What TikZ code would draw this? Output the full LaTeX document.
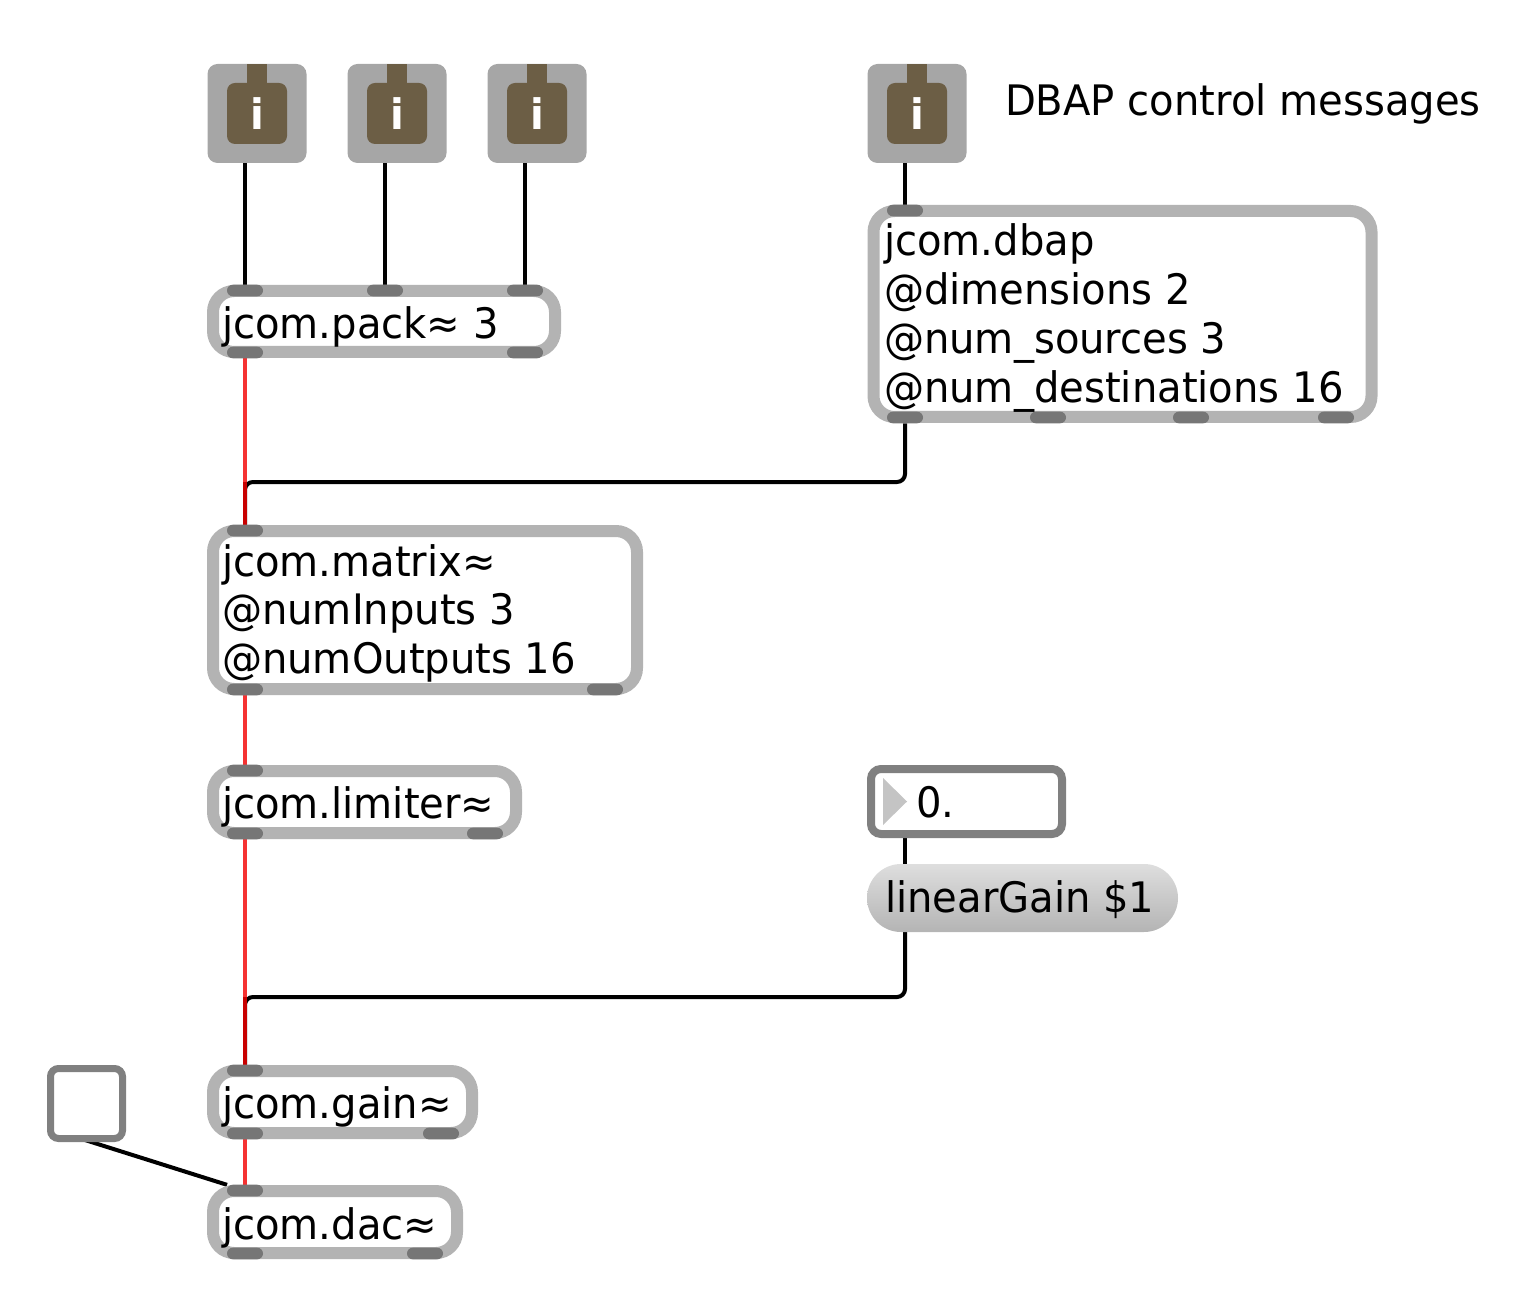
\documentclass[tikz,border=0pt]{standalone}
\usepackage{fontspec}
\setmainfont{DejaVu Sans}[FakeStretch=0.955]
\usetikzlibrary{backgrounds}
\definecolor{boxgray}{RGB}{179,179,179}
\definecolor{portgray}{RGB}{118,118,118}
\definecolor{btngray}{RGB}{166,166,166}
\definecolor{btnbrown}{RGB}{108,94,69}
\definecolor{nbgray}{RGB}{128,128,128}
\definecolor{sigred}{RGB}{245,50,50}
\definecolor{sigdark}{RGB}{200,0,0}
\definecolor{msgtop}{RGB}{222,222,222}
\definecolor{msgbot}{RGB}{180,180,180}
\definecolor{trigray}{RGB}{196,196,196}
\tikzset{
  obj/.style={draw=boxgray, line width=6pt, fill=white, rounded corners=10.5pt, inner sep=0pt, outer sep=0pt},
  port/.style={fill=portgray, rounded corners=2.9pt, minimum width=18pt, minimum height=5.8pt, inner sep=0pt, outer sep=0pt},
  txt/.style={anchor=base west, inner sep=0pt, outer sep=0pt, font=\fontsize{21}{24.35}\selectfont},
  wire/.style={draw=black, line width=2pt},
  sig/.style={draw=sigred, line width=1.75pt},
  sigd/.style={draw=sigdark, line width=1.75pt},
  btn/.style={fill=btngray, minimum size=49.5pt, rounded corners=5pt, inner sep=0pt, outer sep=0pt},
  btnstem/.style={fill=btnbrown, minimum width=10pt, minimum height=10pt, inner sep=0pt, outer sep=0pt},
  btnbody/.style={fill=btnbrown, minimum width=30pt, minimum height=30.5pt, rounded corners=4pt, inner sep=0pt, outer sep=0pt, text=white, font=\fontsize{21}{21}\selectfont\bfseries},
  numbox/.style={draw=nbgray, line width=4pt, fill=white, rounded corners=5pt, inner sep=0pt, outer sep=0pt},
  msgbox/.style={top color=msgtop, bottom color=msgbot, draw=none, rounded corners=17pt, inner sep=0pt, outer sep=0pt},
  togbox/.style={draw=nbgray, line width=3.5pt, fill=white, rounded corners=4pt, inner sep=0pt, outer sep=0pt}
}
\begin{document}
\begin{tikzpicture}[x=0.5pt, y=-0.5pt]
\useasboundingbox (0,0) rectangle (1518,1315);

% message (i) buttons
\foreach \k/\xx in {1/257, 2/397, 3/537, 4/917} {
  \node[btn] (btn\k) at (\xx,113.5) {};
  \node[btnstem] (stem\k) at (\xx,74) {};
  \node[btnbody] (body\k) at (\xx,113.5) {i};
}
\node[txt] (cmt) at (1005,116) {DBAP control messages};

% objects
\node[obj, minimum width=171pt, minimum height=30.5pt] (pack) at (384,321.5) {};
\node[port] (pack-i1) at (245,290.5) {};
\node[port] (pack-i2) at (385,290.5) {};
\node[port] (pack-i3) at (525,290.5) {};
\node[port] (pack-o1) at (245,352.5) {};
\node[port] (pack-o2) at (525,352.5) {};
\node[txt] (pack-t) at (222,339) {jcom.pack≈ 3};

\node[obj, minimum width=249pt, minimum height=103pt] (dbap) at (1122.5,314) {};
\node[port] (dbap-i1) at (905,210.5) {};
\node[port] (dbap-o1) at (905,417.5) {};
\node[port] (dbap-o2) at (1048,417.5) {};
\node[port] (dbap-o3) at (1191,417.5) {};
\node[port] (dbap-o4) at (1336,417.5) {};
\node[txt] (dbap-t) at (884,256) {\vtop{\hbox{jcom.dbap}\hbox{@dimensions 2}\hbox{@num\_sources 3}\hbox{@num\_destinations 16}}};

\node[obj, minimum width=212pt, minimum height=79pt] (mx) at (425,610) {};
\node[port] (mx-i1) at (245,530.5) {};
\node[port] (mx-o1) at (245,689.5) {};
\node[port] (mx-o2) at (605,689.5) {};
\node[txt] (mx-t) at (222,576) {\vtop{\hbox{jcom.matrix≈}\hbox{@numInputs 3}\hbox{@numOutputs 16}}};

\node[obj, minimum width=151.5pt, minimum height=31pt] (lim) at (364.5,802) {};
\node[port] (lim-i1) at (245,770.5) {};
\node[port] (lim-o1) at (245,833.5) {};
\node[port] (lim-o2) at (485,833.5) {};
\node[txt] (lim-t) at (222,818) {jcom.limiter≈};

\node[obj, minimum width=129.5pt, minimum height=31pt] (ga) at (342.5,1102) {};
\node[port] (ga-i1) at (245,1070.5) {};
\node[port] (ga-o1) at (245,1133.5) {};
\node[port] (ga-o2) at (441,1133.5) {};
\node[txt] (ga-t) at (222,1118) {jcom.gain≈};

\node[obj, minimum width=122pt, minimum height=31pt] (dac) at (335,1222) {};
\node[port] (dac-i1) at (245,1190.5) {};
\node[port] (dac-o1) at (245,1253.5) {};
\node[port] (dac-o2) at (425,1253.5) {};
\node[txt] (dac-t) at (222,1239) {jcom.dac≈};

% number box
\node[numbox, minimum width=95.5pt, minimum height=32.5pt] (num) at (966.5,801.5) {};
\fill[trigray] (883,778) -- (907,801.5) -- (883,825) -- cycle;
\node[txt] (num-t) at (916,817) {0.};

% message box
\node[msgbox, minimum width=155.5pt, minimum height=34pt] (msg) at (1022.5,898) {};
\node[txt] (msg-t) at (885,912) {linearGain \$1};

% toggle
\node[togbox, minimum width=36pt, minimum height=35pt] (tog) at (86.5,1103.5) {};

% connector points
\coordinate (c1) at (245,482);
\coordinate (c2) at (245,997);
\coordinate (num-o) at (905,830);
\coordinate (msg-i) at (905,870);
\coordinate (msg-o) at (905,926);
\coordinate (tog-o) at (85,1140);

\begin{scope}[on background layer]
  \draw[wire] ([xshift=-6pt]btn1.center) -- (pack-i1);
  \draw[wire] ([xshift=-6pt]btn2.center) -- (pack-i2);
  \draw[wire] ([xshift=-6pt]btn3.center) -- (pack-i3);
  \draw[wire] ([xshift=-6pt]btn4.center) -- (dbap-i1);
  \draw[wire, rounded corners=4pt] (dbap-o1) |- (c1) -- (mx-i1);
  \draw[sig] (pack-o1) -- (c1);
  \draw[sigd] (c1) -- (mx-i1);
  \draw[sig] (mx-o1) -- (lim-i1);
  \draw[wire] (num-o) -- (msg-i);
  \draw[wire, rounded corners=4pt] (msg-o) |- (c2) -- (ga-i1);
  \draw[sig] (lim-o1) -- (c2);
  \draw[sigd] (c2) -- (ga-i1);
  \draw[wire] (tog-o) -- (dac-i1);
  \draw[sig] (ga-o1) -- (dac-i1);
\end{scope}
\end{tikzpicture}
\end{document}
